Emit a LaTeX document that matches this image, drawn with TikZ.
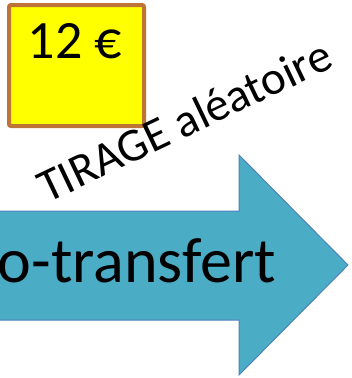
\documentclass[tikz,border=0pt]{standalone}
\usepackage{fontspec}
\setmainfont{Carlito}
\definecolor{boxbrown}{RGB}{190,115,55}
\definecolor{boxyellow}{RGB}{255,255,0}
\definecolor{arrowfill}{RGB}{75,172,198}
\definecolor{arrowline}{RGB}{79,129,189}
\begin{document}
\begin{tikzpicture}[x=1pt,y=-1pt]
            \useasboundingbox (0,0) rectangle (352,378);
            \clip (0,0) rectangle (352,378);
            % prix
            \draw[boxbrown,fill=boxyellow,line width=4pt,rounded corners=2pt] (9,5) rectangle (144,126);
            \node[anchor=base,inner sep=0pt,font=\fontsize{54}{64}\selectfont] (P) at (75,58) {12 €};
            % fleche
            \draw[arrowline,fill=arrowfill,line width=1pt] (-5,211) -- (239,211) -- (239,155) -- (348,265) -- (239,375) -- (239,320) -- (-5,320) -- cycle;
            \node[anchor=base east,inner sep=0pt,font=\fontsize{64}{74}\selectfont] (T) at (276,282) {o-transfert};
            % tirage
            \node[anchor=base west,inner sep=0pt,rotate=25.5,font=\fontsize{47}{56}\selectfont] (A) at (47,204) {TIRAGE aléatoire};
        \end{tikzpicture}
\end{document}
